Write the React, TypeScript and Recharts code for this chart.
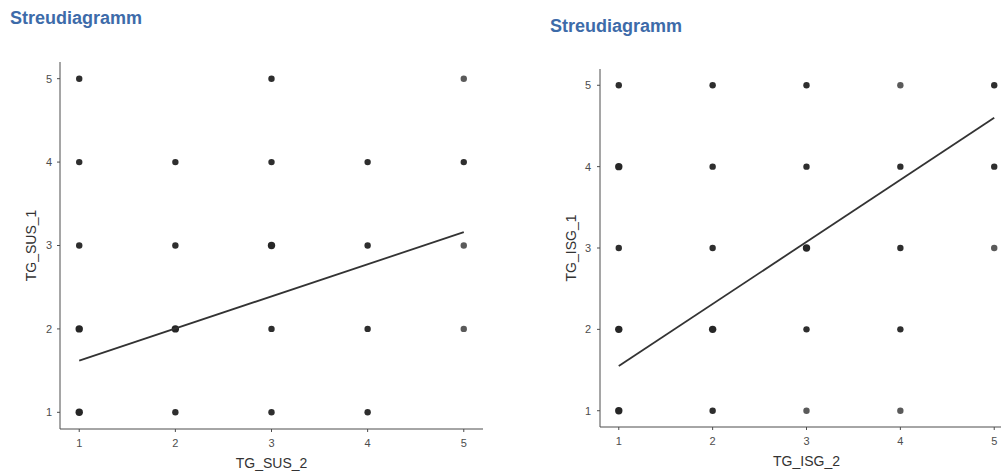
import { ScatterChart, Scatter, XAxis, YAxis, Label } from 'recharts'

const ticks = [1, 2, 3, 4, 5]
const domain: [number, number] = [0.8, 5.2]

// TG_SUS_2 (x) gegen TG_SUS_1 (y)
const susDense = [
  { x: 1, y: 1 }, { x: 1, y: 2 }, { x: 2, y: 2 }, { x: 3, y: 3 },
]
const susPoints = [
  { x: 1, y: 5 }, { x: 1, y: 4 }, { x: 1, y: 3 },
  { x: 2, y: 4 }, { x: 2, y: 3 }, { x: 2, y: 1 },
  { x: 3, y: 5 }, { x: 3, y: 4 }, { x: 3, y: 2 }, { x: 3, y: 1 },
  { x: 4, y: 4 }, { x: 4, y: 3 }, { x: 4, y: 2 }, { x: 4, y: 1 },
  { x: 5, y: 4 },
]
const susSparse = [{ x: 5, y: 5 }, { x: 5, y: 3 }, { x: 5, y: 2 }]
const susFit = [{ x: 1, y: 1.62 }, { x: 5, y: 3.16 }]

// TG_ISG_2 (x) gegen TG_ISG_1 (y)
const isgDense = [
  { x: 1, y: 1 }, { x: 1, y: 2 }, { x: 1, y: 4 }, { x: 2, y: 2 }, { x: 3, y: 3 },
]
const isgPoints = [
  { x: 1, y: 5 }, { x: 1, y: 3 },
  { x: 2, y: 5 }, { x: 2, y: 4 }, { x: 2, y: 3 }, { x: 2, y: 1 },
  { x: 3, y: 5 }, { x: 3, y: 4 }, { x: 3, y: 2 },
  { x: 4, y: 4 }, { x: 4, y: 3 }, { x: 4, y: 2 },
  { x: 5, y: 5 }, { x: 5, y: 4 },
]
const isgSparse = [{ x: 3, y: 1 }, { x: 4, y: 5 }, { x: 4, y: 1 }, { x: 5, y: 3 }]
const isgFit = [{ x: 1, y: 1.55 }, { x: 5, y: 4.6 }]

const FONT = '"Liberation Sans", Arial, Helvetica, sans-serif'
const AXIS = '#4d4d4d'

const dot = (r: number, fill: string) => (p: any) =>
  <circle cx={p.cx} cy={p.cy} r={r} fill={fill} />

interface PanelProps {
  left: number
  top: number
  bottom: number
  right: number
  yTickMargin: number
  xLabel: string
  yLabel: string
  dense: { x: number; y: number }[]
  points: { x: number; y: number }[]
  sparse: { x: number; y: number }[]
  fit: { x: number; y: number }[]
}

function Panel({ left, top, bottom, right, yTickMargin, xLabel, yLabel, dense, points, sparse, fit }: PanelProps) {
  const width = 500
  const height = 474
  return (
    <div style={{ position: 'absolute', left, top: 0 }}>
      <ScatterChart
        width={width}
        height={height}
        margin={{ top, right, left: 0, bottom: 0 }}
        style={{ fontFamily: FONT }}
      >
        <XAxis
          type="number"
          dataKey="x"
          domain={domain}
          ticks={ticks}
          allowDataOverflow
          height={height - bottom}
          tickSize={3}
          tickMargin={7}
          stroke={AXIS}
          tick={{ fill: AXIS, fontSize: 11 }}
        >
          <Label
            value={xLabel}
            position="insideBottom"
            offset={height - bottom - (bottom > 428 ? 39 : 38.5)}
            style={{ fill: '#333', fontSize: 14 }}
          />
        </XAxis>
        <YAxis
          type="number"
          dataKey="y"
          domain={domain}
          ticks={ticks}
          allowDataOverflow
          width={60}
          tickSize={3}
          tickMargin={yTickMargin}
          stroke={AXIS}
          tick={{ fill: AXIS, fontSize: 11 }}
        >
          <Label
            value={yLabel}
            angle={-90}
            position="insideLeft"
            offset={31}
            style={{ fill: '#333', fontSize: 14, textAnchor: 'middle' }}
          />
        </YAxis>
        <Scatter data={points} shape={dot(3.2, '#2e2e2e')} isAnimationActive={false} />
        <Scatter data={dense} shape={dot(3.7, '#262626')} isAnimationActive={false} />
        <Scatter data={sparse} shape={dot(3.2, '#5a5a5a')} isAnimationActive={false} />
        <Scatter
          data={fit}
          line={{ stroke: '#333', strokeWidth: 1.8 }}
          shape={() => <g />}
          isAnimationActive={false}
        />
      </ScatterChart>
    </div>
  )
}

const titleStyle = {
  position: 'absolute' as const,
  fontFamily: FONT,
  fontWeight: 700,
  fontSize: 18,
  lineHeight: '18px',
  color: '#3d6ba9',
  whiteSpace: 'nowrap' as const,
}

export default function App() {
  return (
    <div
      style={{
        position: 'absolute',
        left: 0,
        top: 0,
        width: 1001,
        height: 474,
        overflow: 'hidden',
        background: '#fff',
      }}
    >
      <Panel
        left={0}
        top={62}
        bottom={429}
        right={17}
        yTickMargin={5}
        xLabel="TG_SUS_2"
        yLabel="TG_SUS_1"
        dense={susDense}
        points={susPoints}
        sparse={susSparse}
        fit={susFit}
      />
      <Panel
        left={540}
        top={69}
        bottom={427}
        right={27}
        yTickMargin={6}
        xLabel="TG_ISG_2"
        yLabel="TG_ISG_1"
        dense={isgDense}
        points={isgPoints}
        sparse={isgSparse}
        fit={isgFit}
      />
      <div style={{ ...titleStyle, left: 10, top: 9 }}>Streudiagramm</div>
      <div style={{ ...titleStyle, left: 550, top: 17 }}>Streudiagramm</div>
    </div>
  )
}
